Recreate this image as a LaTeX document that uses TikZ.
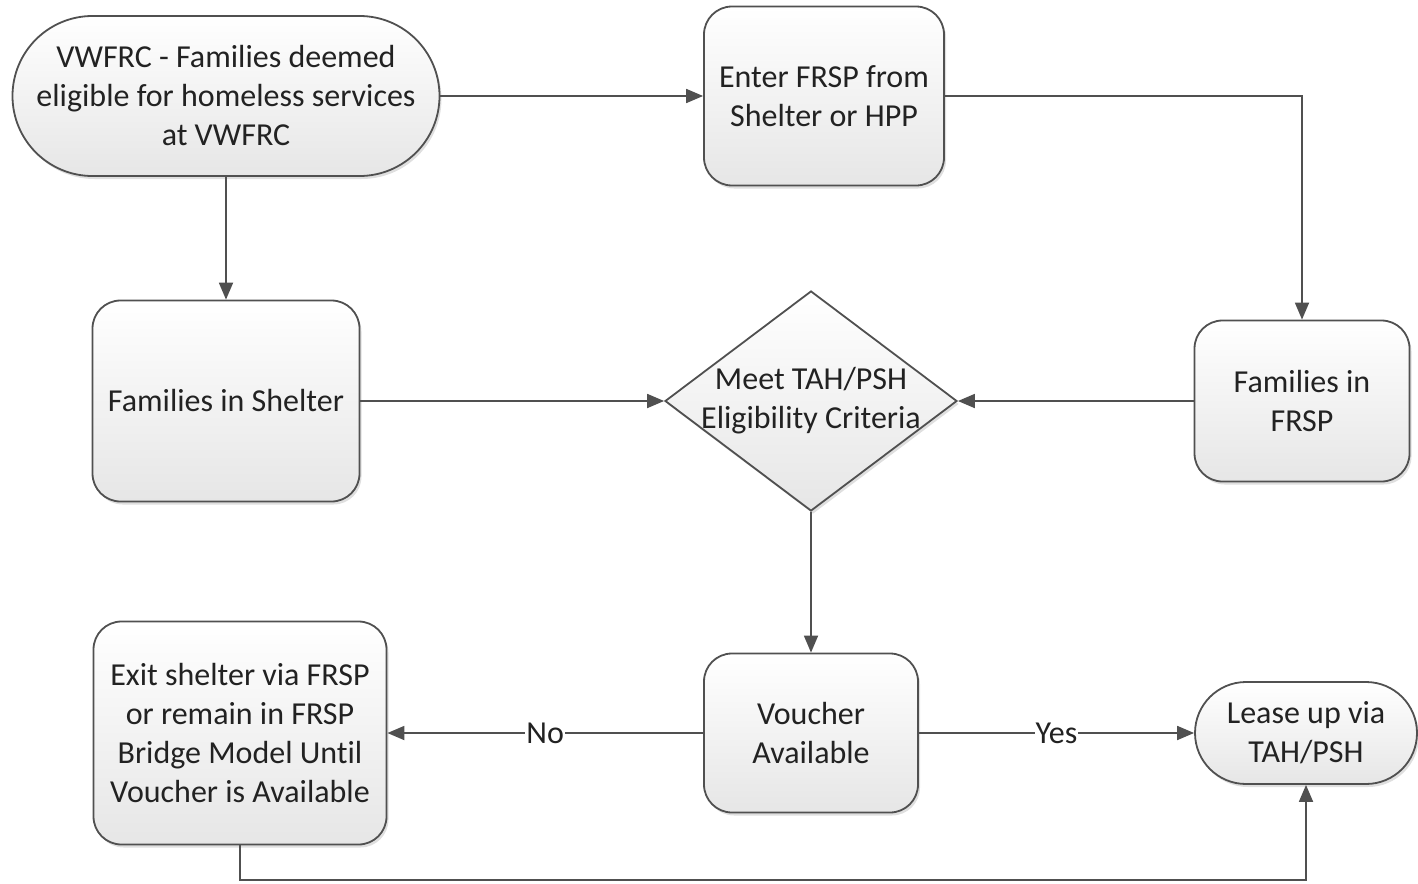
\documentclass[tikz,border=0pt]{standalone}
\usepackage{fontspec}
\setmainfont{Carlito}[Ligatures={NoCommon}]
\usetikzlibrary{arrows.meta,shapes.geometric,shadows,positioning}
\definecolor{edgegray}{HTML}{505050}
\definecolor{txtgray}{HTML}{222222}
\definecolor{fillbot}{HTML}{E6E6E6}
\begin{document}
\begin{tikzpicture}[x=1pt,y=-1pt,
  box/.style={draw=edgegray, line width=1.8pt, top color=white, bottom color=fillbot,
    rounded corners=28pt, align=center, text=txtgray, inner sep=0pt,
    drop shadow={shadow xshift=2pt, shadow yshift=-3pt, opacity=0.25}},
  term/.style={box, rounded corners=#1},
  dec/.style={draw=edgegray, line width=1.8pt, top color=white, bottom color=fillbot,
    diamond, inner sep=0pt, shape aspect=1.33,
    drop shadow={shadow xshift=2pt, shadow yshift=-3pt, opacity=0.25}},
  conn/.style={draw=edgegray, line width=1.8pt, -{Triangle[length=17pt,width=14pt]}},
  lbl/.style={fill=white, inner sep=1pt, text=txtgray}]
\useasboundingbox (0,0) rectangle (1418,883);
\fontsize{32}{39}\selectfont
\node[term=80pt, minimum width=427pt, minimum height=160pt] (start) at (226,96)
  {VWFRC - Families deemed\\eligible for homeless services\\at VWFRC};
\node[box, minimum width=240pt, minimum height=179pt] (enter) at (824,96)
  {Enter FRSP from\\Shelter or HPP};
\node[box, minimum width=267pt, minimum height=201pt] (shelter) at (226,401)
  {Families in Shelter};
\node[dec, minimum width=292pt, minimum height=220pt,
  label={[align=center,text=txtgray]center:Meet TAH/PSH\\Eligibility Criteria}] (crit) at (811,401) {};
\node[box, minimum width=215pt, minimum height=161pt] (frsp) at (1302,401)
  {Families in\\FRSP};
\node[box, minimum width=214pt, minimum height=159pt] (voucher) at (811,733)
  {Voucher\\Available};
\node[term=51pt, minimum width=222pt, minimum height=102pt] (lease) at (1306,733)
  {Lease up via\\TAH/PSH};
\node[box, minimum width=293pt, minimum height=223pt] (exit) at (240,733)
  {Exit shelter via FRSP\\or remain in FRSP\\Bridge Model Until\\Voucher is Available};
\coordinate (low) at (240,880);
\draw[conn] (start.east) -- (enter.west);
\draw[conn] (start.south) -- (shelter.north);
\draw[conn] (enter.east) -| (frsp.north);
\draw[conn] (shelter.east) -- (crit.west);
\draw[conn] (frsp.west) -- (crit.east);
\draw[conn] (crit.south) -- (voucher.north);
\draw[conn] (voucher.west) -- node[lbl]{No} (exit.east);
\draw[conn] (voucher.east) -- node[lbl]{Yes} (lease.west);
\draw[conn] (exit.south) -- (low) -| (lease.south);
\end{tikzpicture}
\end{document}
